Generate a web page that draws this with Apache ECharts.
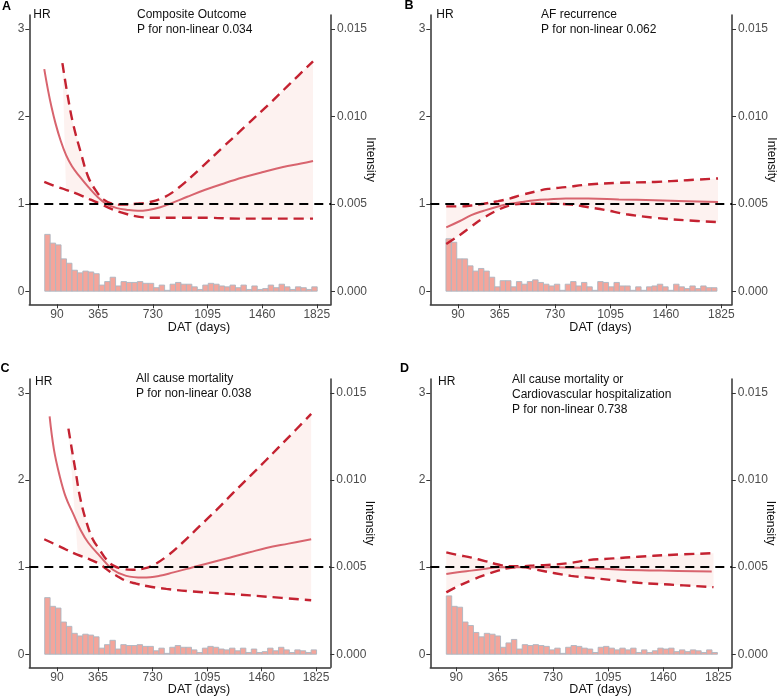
<!DOCTYPE html>
<html>
<head>
<meta charset="utf-8">
<script src="https://cdn.jsdelivr.net/npm/echarts@6/dist/echarts.min.js"></script>
<style>
html, body { margin: 0; padding: 0; background: #fff; }
#main { width: 777px; height: 700px; }
</style>
</head>
<body>
<div id="main"></div>
<script>
//x 轴刻度
var xTicks = [90, 365, 730, 1095, 1460, 1825];
var hrTicks = [0, 1, 2, 3];
var intensityTicks = [0, 0.005, 0.010, 0.015];

//标题
var titleA = ['Composite Outcome', 'P for non-linear 0.034'];
var titleB = ['AF recurrence', 'P for non-linear 0.062'];
var titleC = ['All cause mortality', 'P for non-linear 0.038'];
var titleD = ['All cause mortality or', 'Cardiovascular hospitalization', 'P for non-linear 0.738'];

//A : 拟合曲线及置信区间 (days, HR)
var fitAx = [5, 30, 53, 80, 113, 150, 190, 242, 300, 360, 420, 490, 560, 630, 700, 780, 860, 960, 1080, 1200, 1330, 1460, 1600, 1720, 1800];
var fitAy = [2.54, 2.30, 2.11, 1.92, 1.73, 1.56, 1.43, 1.31, 1.19, 1.08, 1.00, 0.95, 0.93, 0.92, 0.93, 0.96, 1.01, 1.08, 1.16, 1.23, 1.30, 1.36, 1.42, 1.46, 1.49];
var lowAx = [5, 80, 150, 230, 310, 380, 440, 500, 560, 640, 750, 900, 1100, 1300, 1500, 1700, 1800];
var lowAy = [1.25, 1.20, 1.16, 1.11, 1.05, 1.00, 0.95, 0.91, 0.88, 0.85, 0.84, 0.84, 0.84, 0.83, 0.83, 0.83, 0.83];
var upAx = [126, 160, 197, 250, 298, 350, 400, 460, 530, 620, 710, 800, 900, 1045, 1200, 1350, 1500, 1650, 1800];
var upAy = [2.61, 2.25, 1.92, 1.58, 1.31, 1.15, 1.05, 1.00, 0.99, 1.00, 1.02, 1.07, 1.18, 1.40, 1.65, 1.89, 2.13, 2.38, 2.63];

//B
var fitBx = [13, 100, 178, 260, 354, 430, 507, 600, 683, 800, 947, 1150, 1386, 1600, 1803];
var fitBy = [0.73, 0.80, 0.87, 0.92, 0.97, 1.00, 1.02, 1.04, 1.05, 1.06, 1.06, 1.05, 1.04, 1.03, 1.02];
var lowBx = [13, 100, 178, 260, 354, 430, 507, 600, 700, 837, 950, 1057, 1200, 1386, 1600, 1803];
var lowBy = [0.54, 0.64, 0.74, 0.84, 0.93, 0.98, 1.00, 1.00, 1.00, 0.99, 0.96, 0.93, 0.88, 0.84, 0.81, 0.79];
var upBx = [13, 100, 178, 260, 354, 430, 507, 600, 683, 800, 947, 1150, 1386, 1600, 1803];
var upBy = [0.97, 0.97, 0.98, 1.00, 1.03, 1.06, 1.10, 1.14, 1.17, 1.19, 1.22, 1.24, 1.25, 1.27, 1.29];

//C
var fitCx = [41, 70, 108, 150, 197, 250, 300, 376, 465, 554, 666, 777, 870, 960, 1045, 1160, 1268, 1380, 1491, 1640, 1792];
var fitCy = [2.73, 2.35, 2.05, 1.80, 1.62, 1.42, 1.28, 1.13, 0.97, 0.90, 0.88, 0.90, 0.94, 0.98, 1.02, 1.07, 1.12, 1.17, 1.22, 1.27, 1.32];
var lowCx = [5, 80, 153, 230, 309, 380, 443, 500, 555, 620, 700, 822, 1000, 1268, 1500, 1792];
var lowCy = [1.32, 1.26, 1.20, 1.14, 1.09, 1.03, 0.95, 0.89, 0.84, 0.81, 0.78, 0.75, 0.72, 0.69, 0.66, 0.62];
var upCx = [167, 190, 215, 245, 287, 330, 376, 420, 465, 530, 599, 660, 720, 822, 930, 1045, 1160, 1268, 1380, 1491, 1640, 1792];
var upCy = [2.59, 2.35, 2.10, 1.80, 1.52, 1.32, 1.20, 1.09, 1.02, 0.98, 0.97, 0.98, 1.01, 1.12, 1.28, 1.47, 1.66, 1.85, 2.04, 2.23, 2.49, 2.76];

//D
var fitDx = [24, 100, 190, 280, 367, 500, 743, 950, 1184, 1450, 1781];
var fitDy = [0.92, 0.94, 0.96, 0.98, 1.00, 1.00, 1.00, 0.99, 0.97, 0.96, 0.95];
var lowDx = [24, 100, 190, 280, 367, 440, 521, 620, 743, 850, 963, 1130, 1295, 1500, 1793];
var lowDy = [0.71, 0.78, 0.85, 0.91, 0.96, 0.99, 1.00, 0.97, 0.93, 0.90, 0.88, 0.85, 0.82, 0.80, 0.77];
var upDx = [24, 100, 190, 280, 367, 440, 521, 620, 743, 850, 963, 1130, 1295, 1500, 1793];
var upDy = [1.17, 1.14, 1.11, 1.07, 1.03, 1.01, 1.01, 1.02, 1.03, 1.05, 1.08, 1.10, 1.12, 1.14, 1.16];

//直方图 : 密度 (x 1e-3), 50 组
var histA = [3.25, 2.75, 2.65, 1.85, 1.6, 1.2, 1.05, 1.15, 1.1, 1.0, 0.35, 0.55, 0.8, 0.3, 0.55, 0.5, 0.5, 0.55, 0.45, 0.45, 0.2, 0.35, 0.05, 0.4, 0.5, 0.4, 0.4, 0.25, 0.1, 0.35, 0.45, 0.4, 0.3, 0.25, 0.35, 0.2, 0.35, 0.1, 0.3, 0.1, 0.15, 0.35, 0.2, 0.4, 0.25, 0.1, 0.25, 0.2, 0.1, 0.25];
var histB = [3.0, 2.8, 1.85, 1.85, 1.45, 1.15, 1.3, 1.15, 0.8, 0.25, 0.6, 0.6, 0.25, 0.55, 0.4, 0.55, 0.65, 0.5, 0.4, 0.3, 0.4, 0.05, 0.4, 0.55, 0.3, 0.5, 0.25, 0.05, 0.55, 0.5, 0.25, 0.5, 0.3, 0.3, 0.05, 0.25, 0.05, 0.25, 0.3, 0.4, 0.25, 0.05, 0.4, 0.25, 0.15, 0.3, 0.15, 0.3, 0.2, 0.2];
var histC = histA;
var histD = [3.35, 2.75, 2.7, 1.85, 1.65, 1.25, 1.0, 1.2, 1.15, 1.05, 0.4, 0.65, 0.85, 0.3, 0.55, 0.5, 0.55, 0.5, 0.45, 0.25, 0.35, 0.05, 0.4, 0.5, 0.45, 0.35, 0.3, 0.1, 0.4, 0.45, 0.35, 0.25, 0.35, 0.25, 0.35, 0.1, 0.25, 0.1, 0.2, 0.35, 0.3, 0.35, 0.15, 0.25, 0.15, 0.25, 0.2, 0.1, 0.25, 0.1];
//直方图起点和组距 (days)
var binA = [8, 36.4];
var binB = [11, 35.7];
var binC = [8, 36.4];
var binD = [24, 35.9];

var FONT = 'Liberation Sans, Arial, Helvetica, sans-serif';
var AXIS_COLOR = '#333333';
var TICK_COLOR = '#4D4D4D';

//面板布局
var panels = [
    {id: 'A', lines: titleA, fit: [fitAx, fitAy], low: [lowAx, lowAy], up: [upAx, upAy], hist: histA, bin: binA,
     grid: {left: 29.3, top: 15, width: 301.7, height: 289.3}, xr: [-95, 1920],
     letter: [2, 6.5], hr: [33.3, 15], titlePos: [137, 14.5], dat: [199, 328]},
    {id: 'B', lines: titleB, fit: [fitBx, fitBy], low: [lowBx, lowBy], up: [upBx, upBy], hist: histB, bin: binB,
     grid: {left: 430.3, top: 15, width: 301.7, height: 289.3}, xr: [-92, 1895],
     letter: [404.5, 6], hr: [436.3, 15], titlePos: [541, 14.5], dat: [600.5, 328]},
    {id: 'C', lines: titleC, fit: [fitCx, fitCy], low: [lowCx, lowCy], up: [upCx, upCy], hist: histC, bin: binC,
     grid: {left: 29.3, top: 379, width: 301, height: 288.3}, xr: [-95, 1920],
     letter: [0.5, 368.5], hr: [35, 381.7], titlePos: [136, 378.5], dat: [199, 689.5]},
    {id: 'D', lines: titleD, fit: [fitDx, fitDy], low: [lowDx, lowDy], up: [upDx, upDy], hist: histD, bin: binD,
     grid: {left: 430.3, top: 379, width: 301.5, height: 288.3}, xr: [-82, 1914],
     letter: [400, 369], hr: [438, 381.7], titlePos: [512, 380], dat: [600.5, 690]}
];

function zip(xs, ys) {
    var out = [];
    for (var i = 0; i < xs.length; i++) out.push([xs[i], ys[i]]);
    return out;
}

var grids = [], xAxes = [], yAxes = [], series = [], graphics = [];

panels.forEach(function (p, i) {
    var yl = 2 * i, yr = 2 * i + 1;
    var g = p.grid;
    grids.push({left: g.left, top: g.top, width: g.width, height: g.height, containLabel: false, outerBoundsMode: 'none'});

    xAxes.push({
        type: 'value', gridIndex: i, min: p.xr[0], max: p.xr[1],
        splitLine: {show: false},
        axisLine: {show: true, onZero: false, lineStyle: {color: AXIS_COLOR, width: 1.5}},
        axisTick: {show: true, length: 4, customValues: xTicks, lineStyle: {color: AXIS_COLOR, width: 1}},
        axisLabel: {
            customValues: xTicks, margin: 4, color: TICK_COLOR, fontSize: 12, fontFamily: FONT,
            formatter: function (v) { return String(v); }
        }
    });

    yAxes.push({
        type: 'value', gridIndex: i, position: 'left', min: -0.15, max: 3.16,
        splitLine: {show: false},
        axisLine: {show: true, onZero: false, lineStyle: {color: AXIS_COLOR, width: 1.5}},
        axisTick: {show: true, length: 4, customValues: hrTicks, lineStyle: {color: AXIS_COLOR, width: 1}},
        axisLabel: {
            customValues: hrTicks, margin: 5, color: TICK_COLOR, fontSize: 12, fontFamily: FONT,
            formatter: function (v) { return String(v); }
        }
    });

    yAxes.push({
        type: 'value', gridIndex: i, position: 'right', min: -0.00075, max: 0.0158,
        splitLine: {show: false},
        name: 'Intensity', nameLocation: 'middle', nameRotate: -90, nameGap: 33, nameMoveOverlap: false,
        nameTextStyle: {color: '#111', fontSize: 12, fontFamily: FONT},
        axisLine: {show: true, onZero: false, lineStyle: {color: AXIS_COLOR, width: 1.5}},
        axisTick: {show: true, length: 4, customValues: intensityTicks, lineStyle: {color: AXIS_COLOR, width: 1}},
        axisLabel: {
            customValues: intensityTicks, margin: 6, color: TICK_COLOR, fontSize: 12, fontFamily: FONT,
            formatter: function (v) { return v.toFixed(3); }
        }
    });

    //置信区间阴影
    (function (up, low) {
        series.push({
            type: 'custom', xAxisIndex: i, yAxisIndex: yl, silent: true, z: 1,
            data: [[up[0][0], up[1][0]]],
            renderItem: function (params, api) {
                var pts = [], x0 = up[0][0], x1 = up[0][up[0].length - 1];
                for (var k = 0; k < up[0].length; k++) pts.push(api.coord([up[0][k], up[1][k]]));
                for (var k = low[0].length - 1; k >= 0; k--) {
                    if (low[0][k] >= x0 && low[0][k] <= x1) pts.push(api.coord([low[0][k], low[1][k]]));
                }
                return {type: 'polygon', shape: {points: pts}, style: {fill: '#FDF2F0'}};
            }
        });
    })(p.up, p.low);

    //直方图
    var histData = p.hist.map(function (v, k) {
        return [p.bin[0] + k * p.bin[1], p.bin[0] + (k + 1) * p.bin[1], v / 1000];
    });
    series.push({
        type: 'custom', xAxisIndex: i, yAxisIndex: yr, silent: true, z: 2,
        encode: {x: [0, 1], y: 2},
        data: histData,
        renderItem: function (params, api) {
            var a = api.coord([api.value(0), api.value(2)]);
            var b = api.coord([api.value(1), 0]);
            return {
                type: 'rect',
                shape: {x: a[0], y: a[1], width: b[0] - a[0], height: b[1] - a[1]},
                style: {fill: '#F4A59B', stroke: '#ABB7C2', lineWidth: 0.9}
            };
        }
    });

    //置信区间虚线
    [p.low, p.up].forEach(function (ci) {
        series.push({
            type: 'line', xAxisIndex: i, yAxisIndex: yl, smooth: 0.4, symbol: 'none', silent: true, z: 3,
            data: zip(ci[0], ci[1]),
            lineStyle: {color: '#C42231', width: 2.4, type: [10, 6]}
        });
    });

    //拟合曲线 + 参考线
    series.push({
        type: 'line', xAxisIndex: i, yAxisIndex: yl, smooth: 0.4, symbol: 'none', silent: true, z: 4,
        data: zip(p.fit[0], p.fit[1]),
        lineStyle: {color: '#D8646E', width: 2},
        markLine: {
            silent: true, symbol: ['none', 'none'], label: {show: false},
            lineStyle: {color: '#000', width: 2, type: [9, 6]},
            data: [{yAxis: 1}]
        }
    });

    //文字
    graphics.push({type: 'text', x: p.letter[0], y: p.letter[1],
        style: {text: p.id, fontSize: 12.5, fontWeight: 'bold', fontFamily: FONT, fill: '#000', textAlign: 'left', textVerticalAlign: 'middle'}});
    graphics.push({type: 'text', x: p.hr[0], y: p.hr[1],
        style: {text: 'HR', fontSize: 12, fontFamily: FONT, fill: '#111', textAlign: 'left', textVerticalAlign: 'middle'}});
    p.lines.forEach(function (t, k) {
        graphics.push({type: 'text', x: p.titlePos[0], y: p.titlePos[1] + k * 15,
            style: {text: t, fontSize: 12, fontFamily: FONT, fill: '#111', textAlign: 'left', textVerticalAlign: 'middle'}});
    });
    graphics.push({type: 'text', x: p.dat[0], y: p.dat[1],
        style: {text: 'DAT (days)', fontSize: 12.5, fontFamily: FONT, fill: '#111', textAlign: 'center', textVerticalAlign: 'middle'}});
});

var chart = echarts.init(document.getElementById('main'), null, {renderer: 'canvas'});
chart.setOption({
    animation: false,
    backgroundColor: '#fff',
    grid: grids,
    xAxis: xAxes,
    yAxis: yAxes,
    series: series,
    graphic: graphics
});
</script>
</body>
</html>
